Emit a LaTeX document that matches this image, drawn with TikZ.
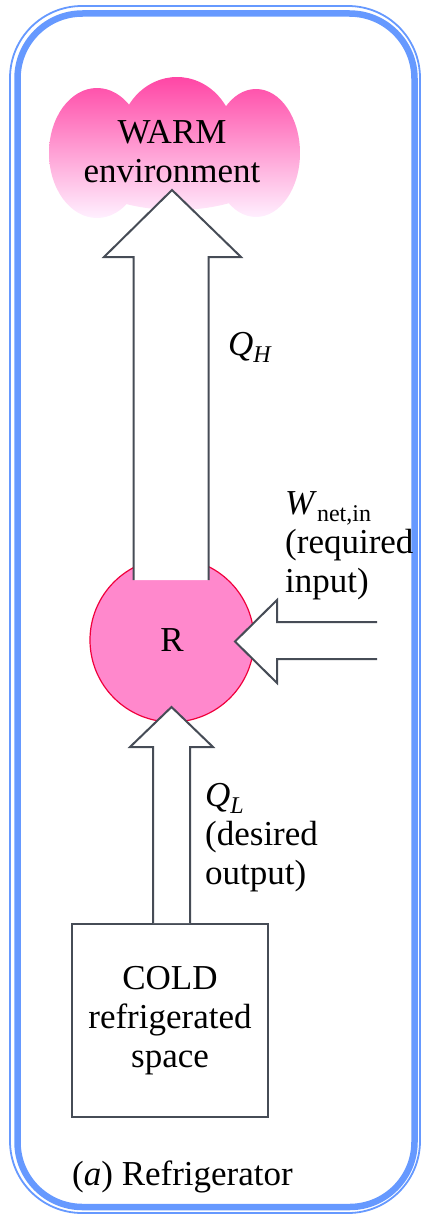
\documentclass[tikz,border=0pt]{standalone}
\usepackage{fontspec}
\setmainfont{Liberation Serif}
\usetikzlibrary{calc}
\definecolor{bordblue}{RGB}{102,153,255}
\definecolor{arrgray}{RGB}{70,76,86}
\definecolor{rpink}{RGB}{255,136,204}
\definecolor{rred}{RGB}{240,0,60}
\definecolor{cloudtop}{RGB}{255,70,165}
\definecolor{cloudmid}{RGB}{255,150,215}
\definecolor{cloudbot}{RGB}{255,240,255}
\newcommand\lbsub[1]{\raisebox{-0.2em}{\fontsize{24}{24}\selectfont #1}}
\begin{document}
\begin{tikzpicture}[x=1pt,y=-1pt,
  txt/.style={font=\fontsize{35}{39}\selectfont, inner sep=0pt, text=black},
  fatarrow/.style={draw=arrgray, line width=2pt, line join=miter},
  boxstyle/.style={draw=arrgray, line width=2pt, minimum width=196pt, minimum height=193pt, inner sep=0pt, align=center},
  ]
\useasboundingbox (0,0) rectangle (421,1215);
% border
\draw[bordblue, line width=1.8pt, rounded corners=72pt] (10,6) rectangle (420,1213);
\draw[bordblue, line width=6.5pt, rounded corners=65pt] (17.5,13.5) rectangle (414.5,1207);
% cloud
\shade[top color=cloudtop, middle color=cloudmid, bottom color=cloudbot]
  (97,153) ellipse [x radius=48, y radius=65]
  (177,140) ellipse [x radius=58, y radius=63]
  (256,153) ellipse [x radius=44, y radius=64]
  (176,160) ellipse [x radius=105, y radius=50];
\node[txt, align=center, anchor=base] (warm) at (172,182) {WARM\\environment};
% refrigerator
\node[circle, draw=rred, fill=rpink, line width=1.2pt, minimum size=164pt, inner sep=0pt, txt] (R) at (172,640) {R};
% cold space
\node[boxstyle, txt] (cold) at (170,1020.5) {COLD\\refrigerated\\space};
% Q_H arrow
\coordinate (qhtip) at (172,190);
\coordinate (qhbase) at (171,580);
\fill[white] ($(qhbase)+(-37.5,0)$) -- (133.5,257) -- (104,257) -- (qhtip) -- (241,257) -- (208.5,257) -- ($(qhbase)+(37.5,0)$) -- cycle;
\draw[fatarrow] ($(qhbase)+(-37.5,0)$) -- (133.5,257) -- (104,257) -- (qhtip) -- (241,257) -- (208.5,257) -- ($(qhbase)+(37.5,0)$);
% W arrow
\coordinate (wtip) at (235,641.5);
\coordinate (wend) at (377,640.5);
\fill[white] ($(wend)+(0,-18.5)$) -- (277,622) -- (277,600) -- (wtip) -- (277,683) -- (277,659) -- ($(wend)+(0,18.5)$) -- cycle;
\draw[fatarrow] ($(wend)+(0,-18.5)$) -- (277,622) -- (277,600) -- (wtip) -- (277,683) -- (277,659) -- ($(wend)+(0,18.5)$);
% Q_L arrow
\coordinate (qltip) at (171.5,707);
\coordinate (qlbase) at (qltip |- cold.north);
\fill[white] ($(qlbase)+(-18.5,0)$) -- (153,747) -- (130,747) -- (qltip) -- (213,747) -- (190,747) -- ($(qlbase)+(18.5,0)$) -- cycle;
\draw[fatarrow] ($(qlbase)+(-18.5,0)$) -- (153,747) -- (130,747) -- (qltip) -- (213,747) -- (190,747) -- ($(qlbase)+(18.5,0)$);
% labels
\node[txt, anchor=base west] (qh) at (228,355) {\textit{Q}\lbsub{\textit{H}}};
\node[txt, anchor=base west, align=left] (wl) at (285,592) {\textit{W}\lbsub{net,in}\\(required\\input)};
\node[txt, anchor=base west, align=left] (ql) at (205,884) {\textit{Q}\lbsub{\textit{L}}\\(desired\\output)};
\node[txt, anchor=base west] (cap) at (72,1185) {(\textit{a}) Refrigerator};
\end{tikzpicture}
\end{document}
